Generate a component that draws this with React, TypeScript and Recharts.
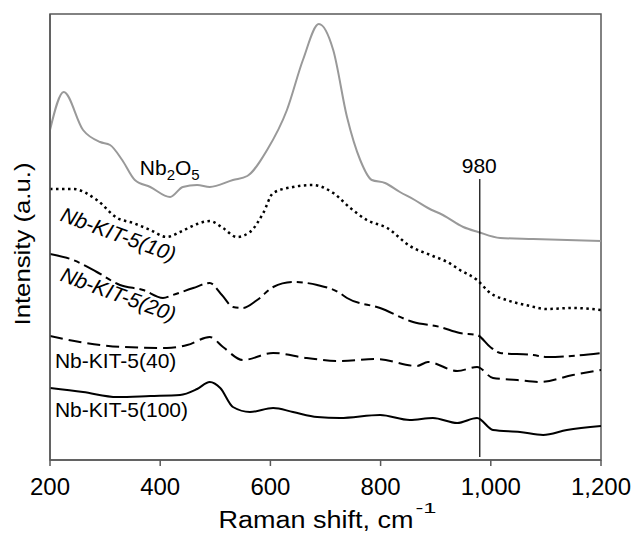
import {
  LineChart,
  Line,
  XAxis,
  YAxis,
  ReferenceLine,
  ReferenceDot,
  ReferenceArea,
} from "recharts";

const FONT = '"Liberation Sans", Arial, Helvetica, sans-serif';

const shiftTicks = [200, 400, 600, 800, 1000, 1200];

// [Raman shift (cm-1), intensity (a.u., stacked offsets)]
const nb2o5 = [
  [200, 330], [225, 368], [260, 330], [291, 318], [309, 315], [331, 300],
  [354, 280], [382, 273], [418, 263], [441, 273], [467, 275], [490, 273],
  [532, 280], [558, 284], [594, 310], [630, 350], [659, 400], [688, 436],
  [714, 410], [739, 343], [763, 300], [784, 280], [808, 277], [835, 268],
  [862, 260], [886, 252], [913, 245], [950, 233], [977, 228], [1017, 222],
  [1077, 221], [1200, 219],
];

const kit10 = [
  [200, 271], [242, 271], [285, 260], [322, 242], [351, 237], [382, 230],
  [412, 223], [436, 228], [467, 236], [490, 239], [514, 232], [539, 223],
  [563, 228], [587, 247], [605, 267], [641, 273], [677, 275], [714, 267],
  [745, 252], [775, 240], [812, 232], [853, 214], [895, 204], [921, 198],
  [944, 190], [975, 180], [999, 167], [1029, 160], [1071, 154], [1102, 151],
  [1149, 152], [1200, 150],
];

const kit20 = [
  [200, 206], [242, 200], [285, 188], [327, 175], [369, 170], [405, 162],
  [423, 165], [460, 172], [490, 177], [512, 165], [532, 153], [550, 152],
  [576, 160], [605, 173], [641, 178], [685, 175], [726, 167], [739, 162],
  [799, 152], [859, 138], [908, 133], [944, 127], [975, 125], [999, 113],
  [1017, 107], [1077, 105], [1102, 103], [1200, 107],
];

const kit40 = [
  [200, 124], [254, 118], [332, 113], [412, 112], [449, 115], [490, 123],
  [514, 113], [550, 100], [605, 107], [666, 102], [726, 99], [793, 101],
  [866, 94], [886, 98], [939, 89], [975, 93], [1004, 82], [1048, 80],
  [1089, 78], [1149, 85], [1200, 90],
];

const kit100 = [
  [200, 72], [260, 68], [322, 63], [382, 64], [436, 65], [467, 71],
  [490, 78], [509, 72], [532, 53], [563, 48], [605, 52], [641, 48],
  [685, 43], [726, 42], [799, 45], [853, 40], [895, 42], [939, 37],
  [975, 42], [1004, 30], [1053, 28], [1095, 25], [1138, 30], [1200, 34],
];

const toRows = (pts: number[][]) => pts.map(([shift, value]) => ({ shift, value }));

// axis titles in the original are a bit wider than plain Arial, so stretch them
function XTitle({ viewBox }: any) {
  const { x, y, width } = viewBox;
  const left = x + width / 2 - 107;
  const base = y + 68;
  return (
    <g fontFamily={FONT} fill="#000">
      <text x={left} y={base} fontSize={23.5} textLength={195} lengthAdjust="spacingAndGlyphs">
        Raman shift, cm
      </text>
      <text x={left + 197} y={base - 15} fontSize={15} textLength={21} lengthAdjust="spacingAndGlyphs">
        -1
      </text>
    </g>
  );
}

function YTitle({ viewBox }: any) {
  const { y, height } = viewBox;
  const cx = 30;
  const cy = y + height / 2 + 7;
  return (
    <text
      x={cx}
      y={cy}
      transform={`rotate(-90, ${cx}, ${cy})`}
      textAnchor="middle"
      fontSize={22.5}
      fontFamily={FONT}
      fill="#000"
      textLength={163}
      lengthAdjust="spacingAndGlyphs"
    >
      Intensity (a.u.)
    </text>
  );
}

const note = (text: string, opts: { italic?: boolean; angle?: number; anchor?: string } = {}) =>
  (p: any) => (
    <text
      x={p.cx}
      y={p.cy}
      transform={opts.angle ? `rotate(${opts.angle}, ${p.cx}, ${p.cy})` : undefined}
      textAnchor={opts.anchor ?? "start"}
      dominantBaseline={opts.angle ? "middle" : undefined}
      fontStyle={opts.italic ? "italic" : "normal"}
      fontSize={21}
      fontFamily={FONT}
      fill="#000"
    >
      {text}
    </text>
  );

export default function App() {
  return (
    <div style={{ position: "absolute", left: 0, top: 0, width: 636, height: 533, background: "#fff" }}>
      <LineChart width={636} height={533} margin={{ top: 14, right: 35, bottom: 0, left: 0 }}>
        <XAxis
          type="number"
          dataKey="shift"
          domain={[200, 1200]}
          ticks={shiftTicks}
          allowDataOverflow
          height={73}
          tickSize={6}
          tickMargin={12}
          stroke="#595959"
          strokeWidth={1.5}
          tick={{ fontSize: 24, fill: "#000", fontFamily: FONT }}
          tickFormatter={(v: number) => v.toLocaleString("en-US")}
          label={<XTitle />}
        />
        <YAxis
          type="number"
          domain={[0, 446]}
          width={50}
          tick={false}
          tickLine={false}
          stroke="#595959"
          strokeWidth={1.5}
          allowDataOverflow
          label={<YTitle />}
        />
        <ReferenceArea x1={200} x2={1200} y1={0} y2={446} fill="none" stroke="#595959" strokeWidth={1.5} />

        <Line data={toRows(nb2o5)} dataKey="value" type="monotone" stroke="#999999" strokeWidth={2} dot={false} isAnimationActive={false} />
        <Line data={toRows(kit10)} dataKey="value" type="monotone" stroke="#000" strokeWidth={2.5} strokeDasharray="2.5 3.5" dot={false} isAnimationActive={false} />
        <Line data={toRows(kit20)} dataKey="value" type="monotone" stroke="#000" strokeWidth={2} strokeDasharray="20 5 6 5" dot={false} isAnimationActive={false} />
        <Line data={toRows(kit40)} dataKey="value" type="monotone" stroke="#000" strokeWidth={2} strokeDasharray="13 6" dot={false} isAnimationActive={false} />
        <Line data={toRows(kit100)} dataKey="value" type="monotone" stroke="#000" strokeWidth={2} dot={false} isAnimationActive={false} />

        <ReferenceLine segment={[{ x: 980, y: 3 }, { x: 980, y: 281 }]} stroke="#000" strokeWidth={1.2} />
        <ReferenceDot x={979} y={287} r={0} shape={note("980", { anchor: "middle" })} />
        <ReferenceDot
          x={363}
          y={285}
          r={0}
          shape={(p: any) => (
            <text x={p.cx} y={p.cy} fontSize={21} fontFamily={FONT} fill="#000">
              Nb<tspan dy={5} fontSize={15}>2</tspan>
              <tspan dy={-5}>O</tspan>
              <tspan dy={5} fontSize={15}>5</tspan>
            </text>
          )}
        />
        <ReferenceDot x={323} y={224} r={0} shape={note("Nb-KIT-5(10)", { italic: true, angle: 20, anchor: "middle" })} />
        <ReferenceDot x={323} y={164} r={0} shape={note("Nb-KIT-5(20)", { italic: true, angle: 20, anchor: "middle" })} />
        <ReferenceDot x={209} y={92} r={0} shape={note("Nb-KIT-5(40)")} />
        <ReferenceDot x={209} y={43} r={0} shape={note("Nb-KIT-5(100)")} />
      </LineChart>
    </div>
  );
}
